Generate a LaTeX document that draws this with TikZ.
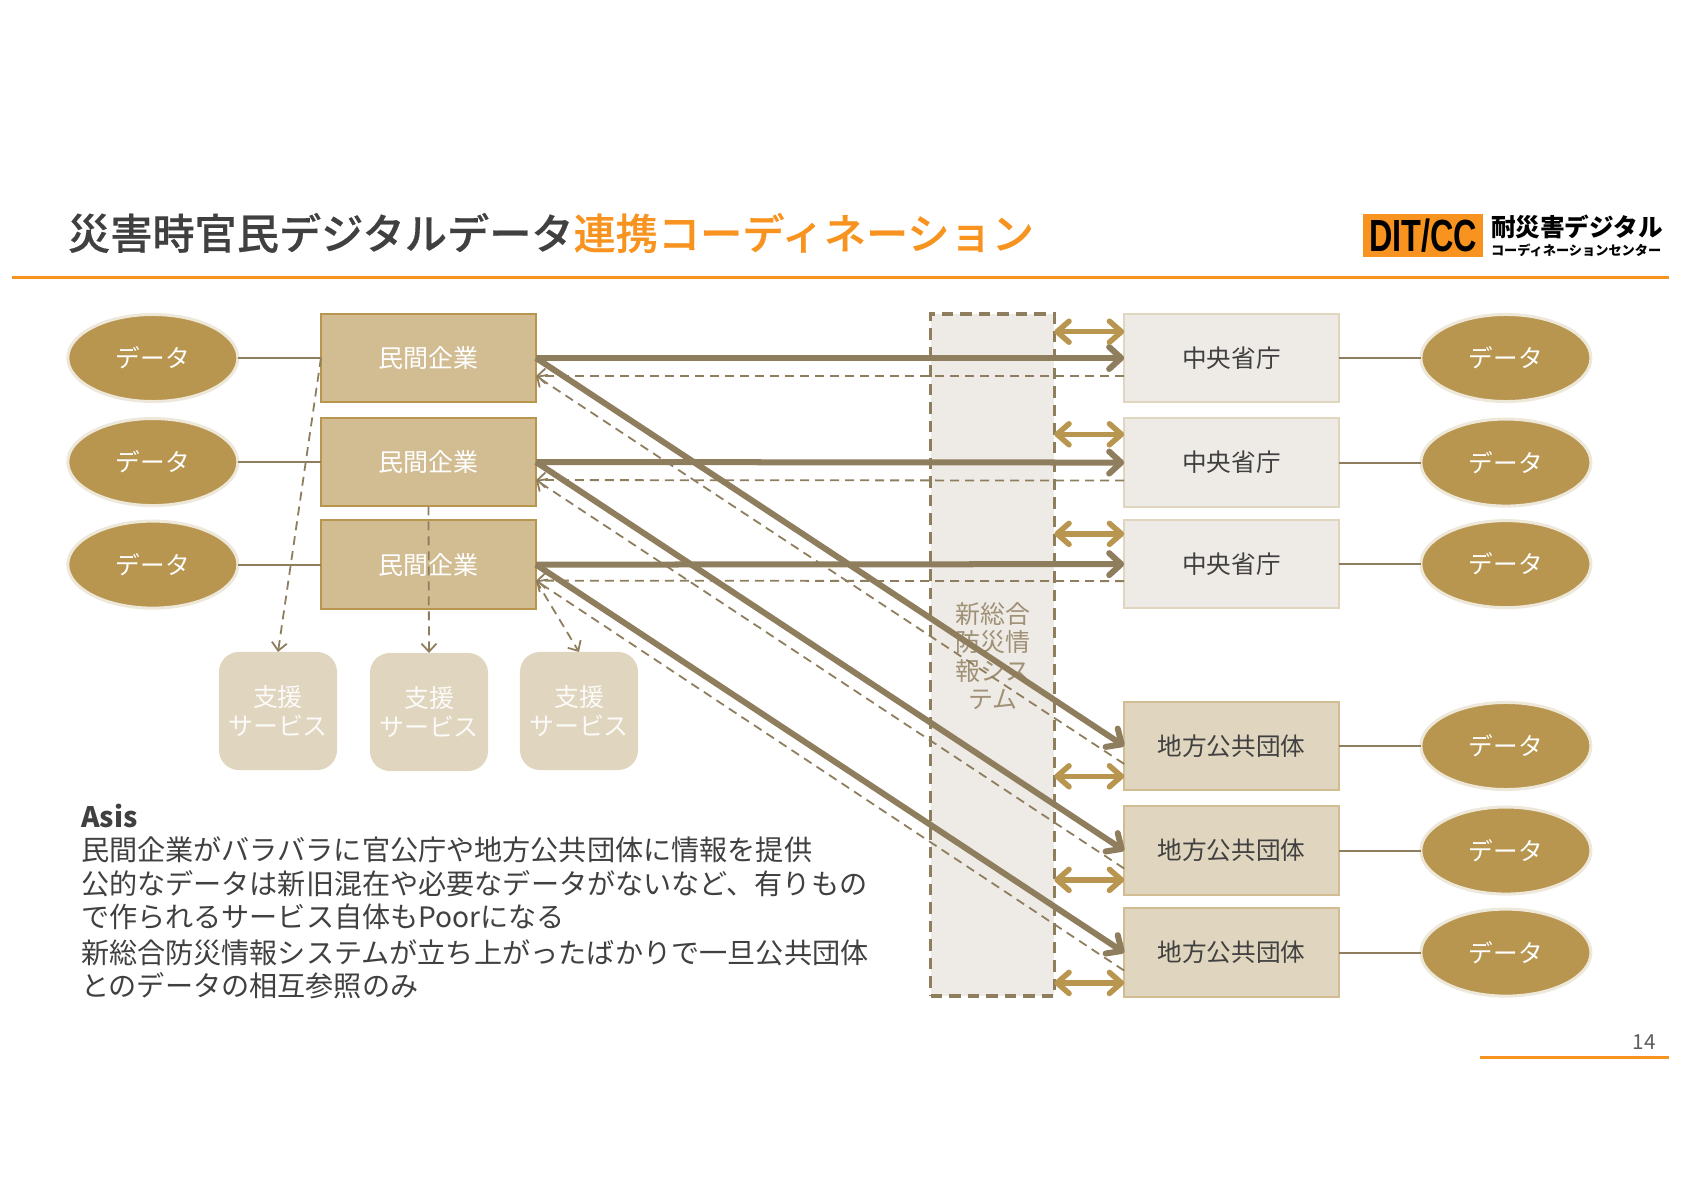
\documentclass[tikz,border=0pt]{standalone}
\usepackage{fontspec}
\setmainfont{Noto Sans CJK JP}
\newfontfamily\titlefont[FakeBold=0.4]{Noto Sans CJK JP Medium}
\newfontfamily\logofont{Liberation Sans}
\usetikzlibrary{arrows.meta,positioning,calc,shapes.geometric}
\definecolor{gold}{HTML}{B8964F}
\definecolor{umber}{HTML}{8F7E5E}
\definecolor{sand}{HTML}{D2BC92}
\definecolor{pale}{HTML}{E0D5BE}
\definecolor{mist}{HTML}{EEEBE6}
\definecolor{ink}{HTML}{404040}
\definecolor{accent}{HTML}{F7931E}
\newcommand{\fs}[2]{\fontsize{#1}{#2}\selectfont}
\begin{document}
\begin{tikzpicture}[
  x=0.01cm, y=-0.01cm,
  outer sep=0pt, inner sep=0pt,
  datum/.style={ellipse, draw=pale!55!white, line width=0.03cm, fill=gold, text=white,
    minimum width=1.70cm, minimum height=0.87cm, font=\fs{7}{8}},
  firm/.style={draw=gold, line width=0.02cm, fill=sand, text=white,
    minimum width=2.15cm, minimum height=0.885cm, font=\fs{7.1}{8}},
  ministry/.style={draw=pale, line width=0.02cm, fill=mist, text=ink,
    minimum width=2.145cm, minimum height=0.885cm, font=\fs{7}{8}},
  local/.style={draw=sand, line width=0.02cm, fill=pale, text=ink,
    minimum width=2.145cm, minimum height=0.885cm, font=\fs{7}{8}},
  support/.style={rounded corners=0.2cm, fill=pale, text=white!90!pale, align=center,
    minimum width=1.18cm, minimum height=1.18cm, font=\fs{7.1}{8.1}},
  tie/.style={draw=umber, line width=0.02cm},
  flow/.style={umber, line width=0.06cm, -{Straight Barb[length=0.12cm,width=0.22cm,round]}},
  link/.style={gold, line width=0.055cm,
    {Straight Barb[length=0.12cm,width=0.21cm,round]}-{Straight Barb[length=0.12cm,width=0.21cm,round]}},
  back/.style={umber, line width=0.018cm, dash pattern=on 0.09cm off 0.06cm,
    -{Straight Barb[length=0.08cm,width=0.15cm]}},
  rule/.style={draw=accent, line width=0.03cm}
]
\useasboundingbox (0,0) rectangle (1684,1191);
% heading
\node[anchor=west, text=ink, font=\fs{12}{14}\titlefont] (title) at (68,233)
  {災害時官民デジタルデータ\textcolor{accent}{連携コーディネーション}};
\coordinate (ruleL) at (12,278);
\coordinate (ruleR) at (1669,278);
\draw[rule] (ruleL) -- (ruleR);
\node[fill=accent, minimum width=1.19cm, minimum height=0.43cm] (logo) at (1423,235.5) {};
\node[font=\fs{12.8}{14}\logofont\bfseries] (logotext) at (logo) {\scalebox{0.72}[1]{DIT/CC}};
\node[anchor=west, font=\fs{7}{8}\bfseries] (logoa) at (1491,227) {耐災害デジタル};
\node[anchor=west, font=\fs{3.75}{4}\bfseries] (logob) at (1491,250) {コーディネーションセンター};
% middle band
\node[draw=umber, dash pattern=on 0.115cm off 0.07cm, line width=0.035cm, fill=mist,
  minimum width=1.235cm, minimum height=6.82cm] (sys) at (992.5,655) {};
\node[align=center, text=umber!85!white, font=\fs{7.1}{8.1}] (syslabel) at (993,656) {新総合\\防災情\\報シス\\テム};
% left side
\node[firm] (comp1) at (428.5,358) {民間企業};
\node[firm, below=0.155cm of comp1] (comp2) {民間企業};
\node[firm, below=0.14cm of comp2] (comp3) {民間企業};
\node[datum, left=0.83cm of comp1] (dataA) {データ};
\node[datum, left=0.83cm of comp2] (dataB) {データ};
\node[datum, left=0.83cm of comp3] (dataC) {データ};
\node[support] (supp1) at (278,711) {支援\\サービス};
\node[support] (supp2) at (429,712) {支援\\サービス};
\node[support] (supp3) at (579,711) {支援\\サービス};
% right side
\node[ministry] (cen1) at (1231.5,358) {中央省庁};
\node[ministry, below=0.16cm of cen1] (cen2) {中央省庁};
\node[ministry, below=0.13cm of cen2] (cen3) {中央省庁};
\node[local] (loc1) at (1231.5,746) {地方公共団体};
\node[local, below=0.16cm of loc1] (loc2) {地方公共団体};
\node[local, below=0.135cm of loc2] (loc3) {地方公共団体};
\node[datum, right=0.82cm of cen1] (dataD) {データ};
\node[datum, right=0.82cm of cen2] (dataE) {データ};
\node[datum, right=0.82cm of cen3] (dataF) {データ};
\node[datum, right=0.82cm of loc1] (dataG) {データ};
\node[datum, right=0.82cm of loc2] (dataH) {データ};
\node[datum, right=0.82cm of loc3] (dataI) {データ};
% data ties
\draw[tie] (dataA) -- (comp1);
\draw[tie] (dataB) -- (comp2);
\draw[tie] (dataC) -- (comp3);
\draw[tie] (cen1) -- (dataD);
\draw[tie] (cen2) -- (dataE);
\draw[tie] (cen3) -- (dataF);
\draw[tie] (loc1) -- (dataG);
\draw[tie] (loc2) -- (dataH);
\draw[tie] (loc3) -- (dataI);
% return points
\coordinate (inA) at ($(comp1.east)+(0,18)$);
\coordinate (inB) at ($(comp2.east)+(0,18)$);
\coordinate (inC) at ($(comp3.east)+(0,16)$);
\coordinate (retA) at ($(cen1.west)+(0,18)$);
\coordinate (retB) at ($(cen2.west)+(0,18)$);
\coordinate (retC) at ($(cen3.west)+(0,17)$);
\coordinate (retD) at ($(loc1.west)+(0,18)$);
\coordinate (retE) at ($(loc2.west)+(0,18)$);
\coordinate (retF) at ($(loc3.west)+(0,18)$);
\draw[back] (retA) -- (inA);
\draw[back] (retB) -- (inB);
\draw[back] (retC) -- (inC);
\draw[back] (retD) -- (inA);
\draw[back] (retE) -- (inB);
\draw[back] (retF) -- (inC);
\draw[back] (comp1.west) -- (supp1.north);
\draw[back] (comp2.south) -- (supp2.north);
\draw[back] (inC) -- (supp3.north);
% main flows
\draw[flow] (comp1.east) -- (cen1.west);
\draw[flow] (comp2.east) -- (cen2.west);
\draw[flow] (comp3.east) -- (cen3.west);
\draw[flow] (comp1.east) -- (loc1.west);
\draw[flow] (comp2.east) -- (loc2.west);
\draw[flow] (comp3.east) -- (loc3.west);
% links to the band
\coordinate (linkA) at ($(cen1.north west)+(0,18)$);
\coordinate (linkB) at ($(cen2.north west)+(0,16)$);
\coordinate (linkC) at ($(cen3.north west)+(0,14)$);
\coordinate (linkD) at ($(loc1.south west)+(0,-14)$);
\coordinate (linkE) at ($(loc2.south west)+(0,-15)$);
\coordinate (linkF) at ($(loc3.south west)+(0,-14)$);
\draw[link] (sys.east |- linkA) -- (linkA);
\draw[link] (sys.east |- linkB) -- (linkB);
\draw[link] (sys.east |- linkC) -- (linkC);
\draw[link] (sys.east |- linkD) -- (linkD);
\draw[link] (sys.east |- linkE) -- (linkE);
\draw[link] (sys.east |- linkF) -- (linkF);
% note
\node[anchor=north west, align=left, text=ink, font=\fs{8}{9.3}] (note) at (81,804)
  {{\bfseries Asis}\\[0.2pt]
  民間企業がバラバラに官公庁や地方公共団体に情報を提供\\[0.3pt]
  公的なデータは新旧混在や必要なデータがないなど、有りもの\\
  で作られるサービス自体もPoorになる\\[1pt]
  新総合防災情報システムが立ち上がったばかりで一旦公共団体\\
  とのデータの相互参照のみ};
% footer
\node[text=ink!85!white, font=\fs{5.9}{7}] (page) at (1644.5,1042) {14};
\coordinate (footL) at (1480,1057);
\coordinate (footR) at (1669,1057);
\draw[rule] (footL) -- (footR);
\end{tikzpicture}
\end{document}
